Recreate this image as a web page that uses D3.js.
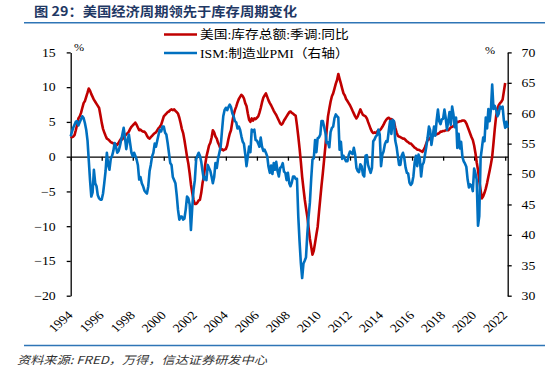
<!DOCTYPE html>
<html>
<head>
<meta charset="utf-8">
<script src="https://cdn.jsdelivr.net/npm/d3@7"></script>
<style>
  body { margin: 0; background: #fff; }
  svg { display: block; }
</style>
</head>
<body>
<svg width="556" height="371"></svg>
<script>
// 月度数据，自 1994-01 起
var inventoryYoY = [
  2.9, 2.8, 2.9, 3.1, 3.8, 4.6, 5.5, 5.8, 6.3, 7.0, 7.7, 8.0,   // 1994
  8.6, 9.2, 9.8, 9.5, 9.0, 8.6, 8.2, 7.9, 7.6, 7.3, 7.0, 6.0,   // 1995
  4.9, 4.0, 3.5, 3.0, 2.6, 2.5, 2.3, 2.1, 2.0, 1.9, 1.8, 1.8,   // 1996
  1.7, 2.0, 2.3, 2.6, 2.5, 2.8, 3.0, 3.2, 3.4, 3.6, 4.0, 4.3,   // 1997
  4.5, 4.7, 4.9, 4.6, 4.2, 3.8, 3.9, 3.7, 3.6, 3.6, 3.4, 3.0,   // 1998
  2.7, 2.6, 2.8, 3.0, 3.2, 3.4, 3.5, 3.8, 4.1, 4.3, 4.6, 5.2,   // 1999
  5.8, 6.0, 6.2, 6.4, 6.5, 6.7, 6.8, 6.7, 6.8, 6.6, 6.4, 6.2,   // 2000
  5.6, 4.8, 4.0, 3.4, 2.4, 1.2, 0.0, -1.0, -2.4, -4.0, -5.2, -6.2,   // 2001
  -6.8, -6.8, -6.6, -6.3, -6.2, -5.2, -3.8, -2.9, -1.2, 0.0, 0.8, 1.6,   // 2002
  2.0, 2.8, 3.8, 3.5, 2.9, 2.6, 2.0, 1.6, 1.0, 1.1, 0.9, 1.0,   // 2003
  1.1, 1.6, 2.5, 3.3, 3.8, 5.0, 6.0, 6.7, 7.2, 7.8, 8.3, 8.6,   // 2004
  8.9, 8.7, 8.4, 7.7, 7.3, 6.2, 5.3, 5.0, 5.5, 5.2, 5.5, 5.4,   // 2005
  5.6, 5.8, 6.3, 7.0, 7.8, 8.5, 8.8, 9.1, 8.6, 8.1, 7.7, 7.4,   // 2006
  7.0, 6.6, 6.3, 6.0, 5.6, 5.2, 4.8, 4.6, 4.8, 5.2, 5.5, 5.8,   // 2007
  6.1, 6.4, 6.5, 6.3, 6.2, 6.0, 5.9, 4.5, 2.9, 1.2, -0.8, -2.9,   // 2008
  -4.6, -6.2, -7.4, -8.6, -10.2, -11.8, -12.9, -14.1, -13.5, -12.4, -11.2, -10.1,   // 2009
  -8.0, -6.0, -4.2, -2.4, -0.5, 1.5, 3.8, 5.8, 6.9, 7.9, 8.7, 9.1,   // 2010
  9.8, 10.5, 11.0, 11.9, 11.2, 10.5, 9.8, 9.1, 8.8, 8.3, 8.0, 7.7,   // 2011
  7.4, 7.0, 6.6, 6.2, 5.8, 5.5, 5.8, 6.3, 6.8, 6.4, 6.0, 5.9,   // 2012
  5.8, 5.5, 5.0, 4.5, 4.0, 3.6, 3.4, 3.5, 3.4, 3.6, 3.8, 3.8,   // 2013
  4.0, 4.3, 4.6, 5.0, 5.3, 5.5, 5.6, 5.4, 5.4, 5.3, 5.0, 4.2,   // 2014
  3.5, 3.0, 2.9, 2.8, 2.7, 2.6, 2.6, 2.4, 2.2, 2.1, 1.9, 1.9,   // 2015
  1.7, 1.5, 1.3, 1.2, 1.0, 1.0, 0.9, 0.8, 0.7, 1.0, 1.4, 1.9,   // 2016
  2.4, 2.5, 2.7, 2.9, 3.0, 3.1, 3.2, 3.2, 3.3, 3.4, 3.6, 3.6,   // 2017
  3.7, 3.7, 3.8, 3.8, 3.8, 4.0, 4.2, 4.3, 4.4, 4.6, 4.8, 5.0,   // 2018
  5.0, 5.1, 5.1, 5.2, 5.2, 5.1, 4.8, 4.3, 3.8, 3.3, 2.8, 2.4,   // 2019
  1.6, 0.5, -0.8, -1.9, -3.5, -4.8, -6.0, -5.7, -5.2, -4.6, -3.8, -2.9,   // 2020
  -2.0, -1.0, 0.0, 2.0, 4.0, 5.8, 6.8, 7.4, 7.7, 7.9, 8.2, 9.4,   // 2021
  10.6   // 2022
];

var ismPmi = [
  56.2, 57.0, 57.6, 58.1, 58.6, 58.7, 58.0, 58.5, 59.0, 59.5, 59.2, 58.4,   // 1994
  57.3, 55.5, 52.4, 49.0, 46.3, 47.0, 50.7, 48.5, 48.0, 46.5, 46.0, 45.8,   // 1995
  45.8, 46.8, 48.5, 50.5, 53.5, 51.5, 50.7, 52.5, 53.0, 53.8, 55.1, 54.5,   // 1996
  53.5, 53.8, 54.5, 55.5, 56.5, 57.6, 56.0, 54.1, 55.5, 56.5, 55.0, 53.5,   // 1997
  52.9, 53.5, 53.0, 52.4, 51.5, 49.1, 49.5, 48.5, 48.0, 47.3, 47.0, 46.8,   // 1998
  48.0, 50.5, 51.5, 52.9, 53.5, 55.0, 54.5, 55.5, 56.5, 57.3, 57.0, 57.8,   // 1999
  57.8, 56.8, 56.5, 55.1, 53.5, 51.8, 51.5, 49.5, 49.0, 48.5, 46.5, 44.1,   // 2000
  42.5, 43.0, 43.0, 42.5, 42.7, 44.2, 46.3, 46.0, 45.0, 40.8, 44.5, 47.4,   // 2001
  49.0, 52.4, 53.0, 53.5, 53.0, 52.0, 50.5, 49.1, 49.5, 49.0, 51.5, 51.0,   // 2002
  50.5, 49.5, 48.5, 49.5, 51.8, 51.0, 52.5, 53.5, 54.5, 57.0, 59.5, 60.5,   // 2003
  60.9, 60.5, 61.0, 61.4, 61.0, 60.0, 59.5, 58.7, 58.5, 57.5, 57.8, 57.3,   // 2004
  56.2, 55.3, 55.0, 53.3, 51.3, 52.9, 54.5, 53.6, 57.3, 57.0, 57.3, 55.6,   // 2005
  55.5, 55.0, 54.5, 56.0, 54.5, 53.8, 54.0, 53.5, 52.9, 51.2, 50.2, 51.4,   // 2006
  50.0, 51.8, 50.7, 52.0, 50.5, 49.6, 51.0, 51.2, 51.8, 50.4, 50.2, 49.0,   // 2007
  50.2, 48.5, 48.0, 48.6, 49.6, 49.6, 49.2, 49.2, 43.0, 38.9, 35.3, 32.9,   // 2008
  35.3, 35.8, 36.3, 40.1, 43.0, 45.3, 49.1, 52.4, 52.6, 55.6, 53.6, 55.9,   // 2009
  56.0, 56.5, 58.7, 58.7, 57.8, 56.8, 55.1, 55.2, 54.4, 56.9, 57.6, 57.8,   // 2010
  59.2, 59.8, 59.5, 59.3, 54.0, 55.3, 52.5, 53.0, 52.5, 52.1, 52.1, 53.1,   // 2011
  53.7, 53.5, 53.3, 54.3, 53.2, 51.0, 50.5, 50.3, 51.6, 51.3, 49.9, 49.6,   // 2012
  53.0, 53.1, 51.5, 50.8, 50.2, 51.0, 55.4, 55.7, 56.2, 56.4, 57.3, 56.5,   // 2013
  51.3, 53.2, 53.7, 54.9, 55.4, 55.3, 57.1, 58.7, 56.6, 58.9, 58.7, 55.5,   // 2014
  54.5, 52.9, 51.5, 51.5, 53.0, 53.5, 52.7, 51.1, 50.2, 50.1, 48.6, 48.2,   // 2015
  48.5, 49.6, 51.8, 53.0, 51.3, 53.2, 52.6, 49.6, 51.5, 51.9, 53.2, 54.5,   // 2016
  56.0, 57.8, 57.2, 54.8, 56.2, 57.8, 56.3, 58.8, 60.6, 58.7, 58.2, 59.0,   // 2017
  59.1, 60.6, 59.3, 57.3, 58.7, 60.2, 58.1, 61.1, 59.8, 57.7, 59.3, 54.3,   // 2018
  56.6, 54.2, 55.3, 52.8, 52.1, 51.7, 51.2, 49.1, 47.8, 48.3, 48.1, 47.2,   // 2019
  50.9, 50.1, 49.1, 41.5, 43.1, 52.6, 54.2, 56.0, 55.4, 59.3, 57.5, 60.7,   // 2020
  58.7, 60.8, 64.7, 60.7, 61.2, 60.6, 59.5, 59.9, 61.1, 60.8, 61.1, 58.8,   // 2021
  57.6, 58.6, 57.6   // 2022
];

var leftTicks = [-20, -15, -10, -5, 0, 5, 10, 15];
var rightTicks = [30, 35, 40, 45, 50, 55, 60, 65, 70];
var yearTicks = [1994, 1996, 1998, 2000, 2002, 2004, 2006, 2008, 2010, 2012, 2014, 2016, 2018, 2020, 2022];
var seriesNames = ["美国:库存总额:季调:同比", "ISM:制造业PMI（右轴）"];
var seriesColors = ["#c00000", "#0070c0"];

var svg = d3.select("svg");
svg.append("rect").attr("width", 556).attr("height", 371).attr("fill", "#fff");

var serif = "'Liberation Serif', 'Times New Roman', serif";
var cjk = "'Noto Sans CJK SC', sans-serif";

var x = d3.scaleTime()
  .domain([new Date(1994, 0, 1), new Date(2022, 2, 1)])
  .range([70.7, 507.7]);
var yL = d3.scaleLinear().domain([-20, 15]).range([295.7, 52.4]);
var yR = d3.scaleLinear().domain([30, 70]).range([295.7, 52.4]);

function monthDate(i) { return new Date(1994, i, 1); }

// 标题
svg.append("text")
  .attr("transform", "translate(34,16) scale(1.1,1)")
  .attr("font-family", cjk).attr("font-weight", "bold").attr("font-size", 13)
  .attr("fill", "#1f3864")
  .text("图 29：美国经济周期领先于库存周期变化");
svg.append("line").attr("x1", 24).attr("x2", 545).attr("y1", 22.7).attr("y2", 22.7)
  .attr("stroke", "#2e75b6").attr("stroke-width", 1.6);
svg.append("line").attr("x1", 24).attr("x2", 545).attr("y1", 345.5).attr("y2", 345.5)
  .attr("stroke", "#2e75b6").attr("stroke-width", 1.6);

// 来源
svg.append("text")
  .attr("transform", "translate(17,364) scale(1.2,1)")
  .attr("font-family", cjk).attr("font-style", "italic").attr("font-size", 11)
  .attr("fill", "#333")
  .text("资料来源: FRED，万得，信达证券研发中心");

// 坐标轴
function styleAxis(g) {
  g.select(".domain").attr("stroke", "#000").attr("stroke-width", 1.3);
  g.selectAll(".tick line").attr("stroke", "#000").attr("stroke-width", 1.3);
  g.selectAll("text").attr("font-family", serif).attr("font-size", 12).attr("fill", "#000");
}

var gL = svg.append("g").attr("transform", "translate(70.7,0)")
  .call(d3.axisLeft(yL).tickValues(leftTicks).tickSize(4).tickSizeOuter(0).tickPadding(9));
styleAxis(gL);
gL.selectAll("text").attr("transform", "scale(1.15,1)");

var gR = svg.append("g").attr("transform", "translate(507.7,0)")
  .call(d3.axisRight(yR).tickValues(rightTicks).tickSize(4).tickSizeOuter(0).tickPadding(8));
styleAxis(gR);
gR.selectAll("text").attr("transform", "scale(1.15,1)");

var gX = svg.append("g").attr("transform", "translate(0," + yL(0) + ")")
  .call(d3.axisBottom(x)
    .tickValues(yearTicks.map(function (y) { return new Date(y, 0, 1); }))
    .tickSize(4).tickSizeOuter(0).tickFormat(""));
styleAxis(gX);

svg.append("g").selectAll("text")
  .data(yearTicks)
  .enter().append("text")
  .attr("transform", function (y) {
    return "translate(" + (x(new Date(y, 0, 1)) + 3) + ",316) scale(1.15,1) rotate(-45)";
  })
  .attr("text-anchor", "end")
  .attr("font-family", serif).attr("font-size", 12).attr("fill", "#000")
  .text(function (y) { return y; });

// % 单位
svg.append("text").attr("transform", "translate(74,51) scale(1.1,1)")
  .attr("font-family", serif).attr("font-size", 11).text("%");
svg.append("text").attr("transform", "translate(485,54) scale(1.1,1)")
  .attr("font-family", serif).attr("font-size", 11).text("%");

// 折线
var lineL = d3.line()
  .x(function (d, i) { return x(monthDate(i)); })
  .y(function (d) { return yL(d); });
var lineR = d3.line()
  .x(function (d, i) { return x(monthDate(i)); })
  .y(function (d) { return yR(d); });

svg.append("path").datum(inventoryYoY)
  .attr("d", lineL).attr("fill", "none")
  .attr("stroke", seriesColors[0]).attr("stroke-width", 2.6).attr("stroke-linejoin", "round");
svg.append("path").datum(ismPmi)
  .attr("d", lineR).attr("fill", "none")
  .attr("stroke", seriesColors[1]).attr("stroke-width", 2.6).attr("stroke-linejoin", "round");

// 图例
var legend = svg.append("g");
var legendY = [34.5, 53];
seriesNames.forEach(function (name, i) {
  legend.append("line")
    .attr("x1", 164).attr("x2", 197).attr("y1", legendY[i]).attr("y2", legendY[i])
    .attr("stroke", seriesColors[i]).attr("stroke-width", 2.6);
  legend.append("text")
    .attr("transform", "translate(200," + (legendY[i] + 4.5) + ") scale(1.1,1)")
    .attr("font-family", serif + ", " + cjk).attr("font-size", 12.5).attr("fill", "#000")
    .text(name);
});
</script>
</body>
</html>
